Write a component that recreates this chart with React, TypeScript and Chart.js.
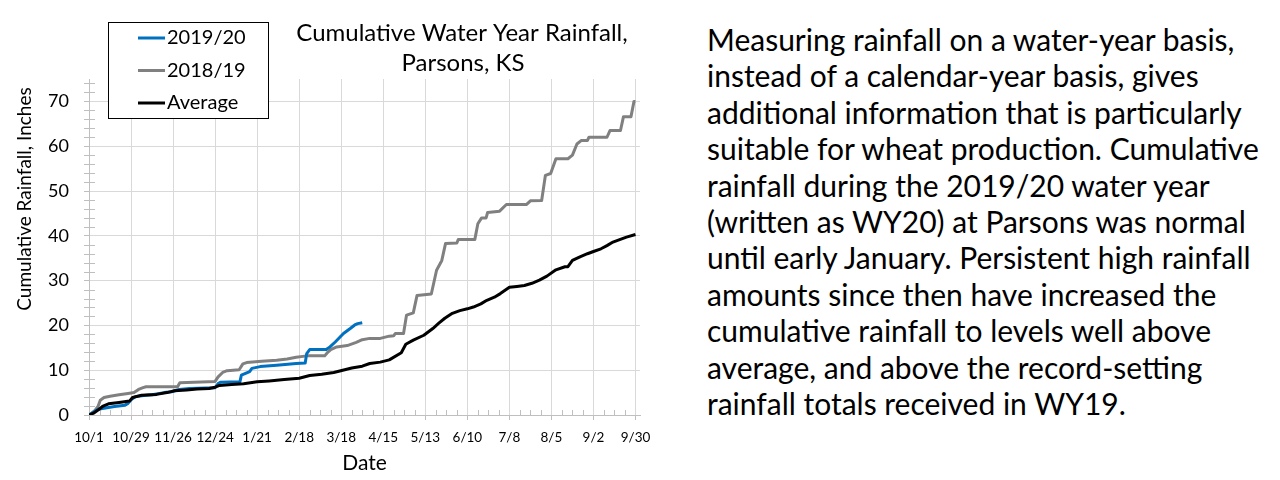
import React, { useEffect, useRef } from 'react';
import { Chart, registerables } from 'chart.js';

Chart.register(...registerables);

// ---- data ----
const xTickDays = [0, 28, 56, 84, 112, 140, 168, 196, 224, 252, 280, 308, 336, 364];
const xTickLabels = ['10/1', '10/29', '11/26', '12/24', '1/21', '2/18', '3/18', '4/15', '5/13', '6/10', '7/8', '8/5', '9/2', '9/30'];
const yTickValues = [0, 10, 20, 30, 40, 50, 60, 70];

const seriesLabels = ['2019/20', '2018/19', 'Average'];
const seriesColors = ['#0070C0', '#808080', '#000000'];

// days since 10/1 and cumulative rainfall (inches)
const wy20Days = [0, 3, 6, 10, 17, 24, 26, 28, 31, 38, 42, 50, 55, 60, 67, 84, 86, 87.5, 100.5, 101.5, 107, 108.5, 114, 125, 138, 144, 145, 147, 158, 160.5, 164, 169.5, 174, 177, 179, 182];
const wy20Rain = [0, 0.6, 1.3, 1.5, 1.9, 2.2, 2.6, 3.4, 4.1, 4.4, 4.5, 5.0, 5.2, 5.7, 5.9, 6.1, 7.0, 7.3, 7.4, 8.9, 9.7, 10.4, 10.8, 11.1, 11.5, 11.6, 13.7, 14.6, 14.6, 15.2, 16.3, 18.2, 19.3, 20.1, 20.4, 20.6];

const wy19Days = [0, 4, 6, 7.5, 10, 14, 20, 26, 30, 33, 36, 38, 59, 60.5, 70, 84, 86, 89, 92, 100, 102.5, 105, 115, 125, 132, 138, 145, 157, 159, 161, 165, 172, 178, 182, 187, 194, 200, 203, 204, 209.5, 211.5, 216, 218.5, 228, 231.5, 235, 237.5, 245, 246, 257, 259, 261.5, 264.5, 265.5, 273.5, 278, 291.5, 294, 301.5, 304, 307.5, 311, 319, 322, 325, 328, 332, 333, 345, 347, 354, 356, 361, 363, 364];
const wy19Rain = [0, 1.0, 1.9, 3.3, 3.9, 4.2, 4.5, 4.8, 5.0, 5.7, 6.1, 6.3, 6.3, 7.2, 7.3, 7.5, 8.5, 9.5, 9.9, 10.1, 11.4, 11.7, 12.0, 12.2, 12.5, 12.9, 13.2, 13.2, 14.0, 14.6, 15.2, 15.5, 16.2, 16.8, 17.1, 17.1, 17.6, 17.7, 18.2, 18.2, 22.3, 22.8, 26.7, 27.0, 32.3, 34.5, 38.3, 38.4, 39.2, 39.2, 42.7, 44.0, 44.0, 45.2, 45.5, 47.0, 47.0, 47.8, 47.9, 53.5, 53.9, 57.2, 57.2, 58.0, 60.5, 61.3, 61.3, 62.0, 62.0, 63.5, 63.5, 66.6, 66.6, 70.0, 70.0];

const avgDays = [0, 3, 6, 9, 13, 20, 27, 29, 35, 45, 52, 57, 65, 72, 80, 84, 87, 95, 103, 112, 120, 130, 140, 147, 155, 163, 169, 175, 182, 187, 194, 200, 208, 211, 216, 223, 229, 233, 237, 242, 247, 252, 256, 261, 265, 270, 274, 280, 285, 290, 295, 300, 305, 311, 317, 319, 322, 327, 332, 336, 341, 345, 349, 353, 358, 364];
const avgRain = [0, 0.4, 1.1, 1.9, 2.5, 2.8, 3.1, 3.9, 4.4, 4.6, 5.0, 5.4, 5.6, 5.8, 5.9, 6.2, 6.6, 6.8, 7.0, 7.4, 7.6, 7.9, 8.2, 8.8, 9.1, 9.5, 10.0, 10.5, 10.9, 11.5, 11.8, 12.3, 13.9, 15.8, 16.7, 17.8, 19.3, 20.5, 21.6, 22.7, 23.3, 23.7, 24.1, 24.8, 25.6, 26.3, 27.1, 28.5, 28.7, 28.9, 29.4, 30.1, 31.0, 32.4, 33.1, 33.1, 34.5, 35.3, 36.0, 36.5, 37.1, 37.8, 38.6, 39.1, 39.7, 40.3];

const chartTitle = ['Cumulative Water Year Rainfall,', 'Parsons, KS'];
const yAxisTitle = 'Cumulative Rainfall, Inches';
const xAxisTitle = 'Date';

const noteLines = [
  'Measuring rainfall on a water-year basis,',
  'instead of a calendar-year basis, gives',
  'additional information that is particularly',
  'suitable for wheat production. Cumulative',
  'rainfall during the 2019/20 water year',
  '(written as WY20) at Parsons was normal',
  'until early January. Persistent high rainfall',
  'amounts since then have increased the',
  'cumulative rainfall to levels well above',
  'average, and above the record-setting',
  'rainfall totals received in WY19.',
];

// ---- style ----
const FONT = 'Lato, "Open Sans", sans-serif';
const GRID = '#d9d9d9';
const AXIS = '#bfbfbf';
const X_MINOR = 7;
const Y_MINOR = 2;

const toPoints = (xs: number[], ys: number[]) => xs.map((x, i) => ({ x, y: ys[i] }));

const decorPlugin = {
  id: 'decor',
  beforeDatasetsDraw(chart: any) {
    const { ctx, chartArea, scales } = chart;
    const xs = scales.x;
    const ys = scales.y;
    ctx.save();
    ctx.strokeStyle = AXIS;
    ctx.lineWidth = 1;
    ctx.beginPath();
    for (let d = X_MINOR; d <= xTickDays[xTickDays.length - 1]; d += X_MINOR) {
      if (xTickDays.includes(d)) continue;
      const px = Math.round(xs.getPixelForValue(d)) + 0.5;
      ctx.moveTo(px, chartArea.bottom);
      ctx.lineTo(px, chartArea.bottom - 5);
    }
    for (let v = Y_MINOR; v < ys.max; v += Y_MINOR) {
      if (yTickValues.includes(v)) continue;
      const py = Math.round(ys.getPixelForValue(v)) + 0.5;
      ctx.moveTo(chartArea.left - 5, py);
      ctx.lineTo(chartArea.left + 6, py);
    }
    ctx.stroke();
    ctx.restore();
  },
  afterDraw(chart: any) {
    const { ctx, chartArea } = chart;
    ctx.save();
    ctx.fillStyle = '#000';
    // title
    ctx.textAlign = 'center';
    ctx.textBaseline = 'middle';
    ctx.font = `24px ${FONT}`;
    ctx.fillText(chartTitle[0], 462, 33);
    ctx.fillText(chartTitle[1], 463, 63);
    // x axis title
    ctx.font = `21px ${FONT}`;
    ctx.fillText(xAxisTitle, (chartArea.left + chartArea.right) / 2, 463);
    // y axis title
    ctx.save();
    ctx.translate(25, 199);
    ctx.rotate(-Math.PI / 2);
    ctx.font = `19px ${FONT}`;
    ctx.fillText(yAxisTitle, 0, 0);
    ctx.restore();
    // legend
    ctx.fillStyle = '#fff';
    ctx.fillRect(108, 22, 161, 97);
    ctx.strokeStyle = '#000';
    ctx.lineWidth = 1;
    ctx.strokeRect(108.5, 22.5, 160, 96);
    ctx.font = `20px ${FONT}`;
    ctx.textAlign = 'left';
    chart.data.datasets.forEach((ds: any, i: number) => {
      const y = 38 + i * 32.5;
      ctx.strokeStyle = ds.borderColor;
      ctx.lineWidth = 3;
      ctx.beginPath();
      ctx.moveTo(138, y);
      ctx.lineTo(165, y);
      ctx.stroke();
      ctx.fillStyle = '#000';
      ctx.fillText(ds.label, 167, y);
    });
    ctx.restore();
  },
};

export default function App() {
  const ref = useRef<HTMLCanvasElement | null>(null);

  useEffect(() => {
    if (!ref.current) return;
    const series = [
      toPoints(wy20Days, wy20Rain),
      toPoints(wy19Days, wy19Rain),
      toPoints(avgDays, avgRain),
    ];
    const orders = [1, 2, 0];
    const chart = new Chart(ref.current, {
      type: 'line',
      data: {
        datasets: series.map((data, i) => ({
          label: seriesLabels[i],
          data,
          borderColor: seriesColors[i],
          backgroundColor: seriesColors[i],
          borderWidth: 3,
          pointRadius: 0,
          tension: 0,
          fill: false,
          order: orders[i],
          borderJoinStyle: 'round' as const,
        })),
      },
      options: {
        responsive: false,
        animation: false,
        layout: { padding: { top: 79, right: 40, left: 0, bottom: 0 } },
        plugins: {
          legend: { display: false },
          title: { display: false },
          tooltip: { enabled: false },
        },
        scales: {
          x: {
            type: 'linear',
            min: 0,
            max: 367,
            afterFit: (s: any) => { s.height = 65; },
            afterBuildTicks: (s: any) => { s.ticks = xTickDays.map((v) => ({ value: v })); },
            ticks: {
              autoSkip: false,
              maxRotation: 0,
              minRotation: 0,
              padding: 10,
              color: '#000',
              font: { family: FONT, size: 13.5 },
              callback: (v: any) => {
                const i = xTickDays.indexOf(Number(v));
                return i >= 0 ? xTickLabels[i] : '';
              },
            },
            grid: { color: GRID, tickColor: AXIS, tickLength: 5, lineWidth: 1 },
            border: { color: AXIS, width: 1 },
          },
          y: {
            type: 'linear',
            min: 0,
            max: 75,
            afterFit: (s: any) => { s.width = 89; },
            afterBuildTicks: (s: any) => { s.ticks = yTickValues.map((v) => ({ value: v })); },
            ticks: {
              padding: 15,
              color: '#000',
              font: { family: FONT, size: 18 },
            },
            grid: { color: GRID, tickColor: AXIS, tickLength: 5, lineWidth: 1 },
            border: { color: AXIS, width: 1 },
          },
        },
      },
      plugins: [decorPlugin],
    });
    return () => chart.destroy();
  }, []);

  return (
    <div style={{ position: 'absolute', left: 0, top: 0, width: 1280, height: 480, background: '#fff', overflow: 'hidden' }}>
      <canvas ref={ref} width={680} height={480} style={{ position: 'absolute', left: 0, top: 0, width: 680, height: 480 }} />
      <div
        style={{
          position: 'absolute',
          left: 707,
          top: 21,
          fontFamily: FONT,
          fontSize: 30,
          lineHeight: '36.4px',
          color: '#000',
          whiteSpace: 'pre',
        }}
      >
        {noteLines.map((l, i) => (
          <div key={i}>{l}</div>
        ))}
      </div>
    </div>
  );
}
